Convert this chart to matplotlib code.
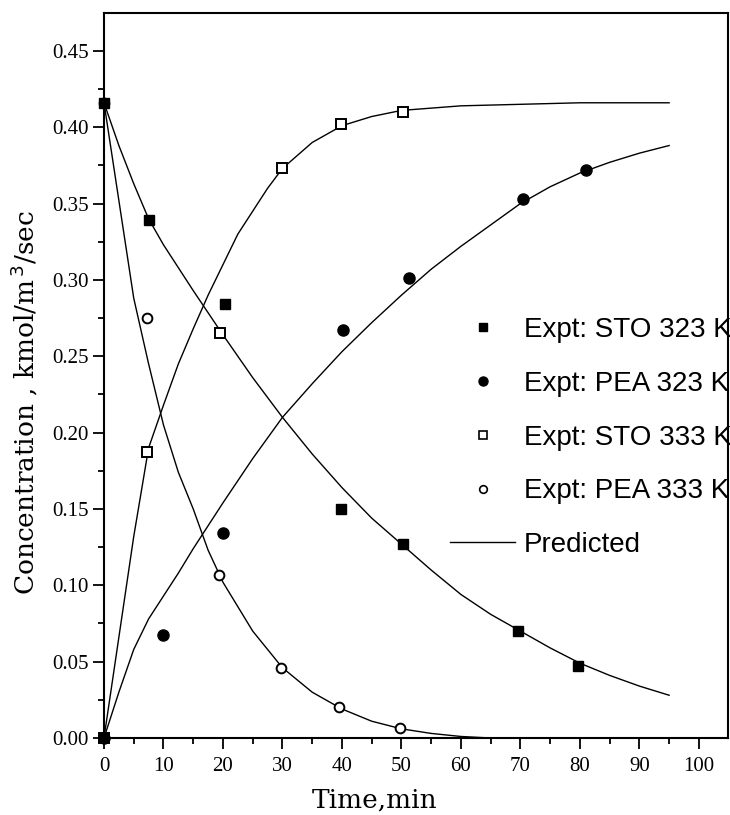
import matplotlib
matplotlib.use("Agg")
import matplotlib.pyplot as plt
from matplotlib.ticker import MultipleLocator, FormatStrFormatter
from matplotlib.lines import Line2D

# ---- experimental data ----
sto323_t = [0, 7.6, 20.3, 39.8, 50.3, 69.6, 79.7]
sto323_c = [0.416, 0.339, 0.284, 0.150, 0.127, 0.070, 0.047]

pea323_t = [0, 9.9, 20.0, 40.2, 51.2, 70.5, 81.1]
pea323_c = [0.0, 0.0675, 0.134, 0.267, 0.301, 0.353, 0.372]

sto333_t = [0, 7.2, 19.5, 29.9, 39.8, 50.2]
sto333_c = [0.0, 0.187, 0.265, 0.373, 0.402, 0.410]

pea333_t = [0, 7.2, 19.3, 29.7, 39.5, 49.7]
pea333_c = [0.416, 0.275, 0.107, 0.046, 0.020, 0.0065]

# ---- predicted curves ----
pred_sto323_t = [0, 2.5, 5, 7.5, 10, 15, 20, 25, 30, 35, 40, 45, 50, 55, 60, 65, 70, 75, 80, 85, 90, 95]
pred_sto323_c = [0.416, 0.388, 0.363, 0.340, 0.323, 0.293, 0.264, 0.236, 0.210, 0.186, 0.164, 0.144, 0.127,
                 0.110, 0.094, 0.081, 0.070, 0.059, 0.049, 0.041, 0.034, 0.028]

pred_pea323_t = [0, 2.5, 5, 7.5, 10, 12.5, 15, 17.5, 20, 25, 30, 35, 40, 45, 50, 55, 60, 65, 70, 75, 80, 85, 90, 95]
pred_pea323_c = [0.0, 0.030, 0.058, 0.078, 0.093, 0.108, 0.124, 0.139, 0.154, 0.183, 0.210, 0.232, 0.253,
                 0.272, 0.290, 0.307, 0.322, 0.336, 0.350, 0.361, 0.370, 0.377, 0.383, 0.388]

pred_sto333_t = [0, 2.5, 5, 7.5, 10, 12.5, 15, 17.5, 20, 22.5, 25, 27.5, 30, 35, 40, 45, 50, 60, 70, 80, 95]
pred_sto333_c = [0.0, 0.066, 0.132, 0.190, 0.218, 0.245, 0.268, 0.290, 0.310, 0.330, 0.345, 0.360, 0.373,
                 0.390, 0.401, 0.407, 0.411, 0.414, 0.415, 0.416, 0.416]

pred_pea333_t = [0, 2.5, 5, 7.5, 10, 12.5, 15, 17.5, 20, 25, 30, 35, 40, 45, 50, 55, 60, 65, 70, 95]
pred_pea333_c = [0.416, 0.352, 0.288, 0.245, 0.205, 0.174, 0.150, 0.123, 0.102, 0.070, 0.046, 0.030, 0.019,
                 0.011, 0.006, 0.003, 0.001, 0.0, 0.0, 0.0]

legend_labels = ["Expt: STO 323 K", "Expt: PEA 323 K", "Expt: STO 333 K", "Expt: PEA 333 K", "Predicted"]

fig = plt.figure(figsize=(7.3, 8.15), dpi=100)
ax = fig.add_axes([104 / 730, 1 - 738 / 815, 624 / 730, 725 / 815])

lw = 1.0
for t, c in [(pred_sto323_t, pred_sto323_c), (pred_pea323_t, pred_pea323_c),
             (pred_sto333_t, pred_sto333_c), (pred_pea333_t, pred_pea333_c)]:
    ax.plot(t, c, color="black", lw=lw, zorder=2)

ax.plot(sto333_t, sto333_c, ls="none", marker="s", ms=7, mfc="white", mec="black", mew=1.4,
        clip_on=False, zorder=3)
ax.plot(pea333_t, pea333_c, ls="none", marker="o", ms=7, mfc="white", mec="black", mew=1.4,
        clip_on=False, zorder=3)
ax.plot(sto323_t, sto323_c, ls="none", marker="s", ms=7.5, mfc="black", mec="black",
        clip_on=False, zorder=4)
ax.plot(pea323_t, pea323_c, ls="none", marker="o", ms=8, mfc="black", mec="black",
        clip_on=False, zorder=4)

ax.set_xlim(0, 104.9)
ax.set_ylim(0, 0.4748)

ax.xaxis.set_major_locator(MultipleLocator(10))
ax.xaxis.set_minor_locator(MultipleLocator(5))
ax.yaxis.set_major_locator(MultipleLocator(0.05))
ax.yaxis.set_minor_locator(MultipleLocator(0.025))
ax.yaxis.set_major_formatter(FormatStrFormatter("%.2f"))

for s in ax.spines.values():
    s.set_linewidth(1.5)

ax.tick_params(which="both", direction="out", top=False, right=False, width=1.3)
ax.tick_params(which="major", length=8)
ax.tick_params(which="minor", length=4.5)
ax.tick_params(axis="x", which="major", pad=6)
ax.tick_params(axis="y", which="major", pad=3)
for lab in ax.get_xticklabels() + ax.get_yticklabels():
    lab.set_fontfamily("Liberation Serif")
    lab.set_fontsize(15)

ax.set_xlabel("Time,min", fontfamily="DejaVu Serif", fontsize=19, va="center")
ax.xaxis.set_label_coords(0.434, -0.0855)
ax.set_ylabel("Concentration , kmol/m$^{\\,3}$/sec", fontfamily="DejaVu Serif", fontsize=19, va="center")
ax.yaxis.set_label_coords(-0.127, 0.463)

handles = [
    Line2D([], [], ls="none", marker="s", ms=6, mfc="black", mec="black"),
    Line2D([], [], ls="none", marker="o", ms=6.5, mfc="black", mec="black"),
    Line2D([], [], ls="none", marker="s", ms=5.5, mfc="white", mec="black", mew=1.2),
    Line2D([], [], ls="none", marker="o", ms=5.5, mfc="white", mec="black", mew=1.2),
    Line2D([], [], color="black", lw=lw),
]
leg = ax.legend(handles, legend_labels, loc="upper left", bbox_to_anchor=(450 / 730, 1 - 317 / 815),
                bbox_transform=fig.transFigure, frameon=False, borderpad=0, borderaxespad=0,
                handlelength=2.35, handletextpad=0.3, labelspacing=1.0,
                prop={"family": "Liberation Sans", "size": 20})

fig.savefig("out.png", dpi=100)
